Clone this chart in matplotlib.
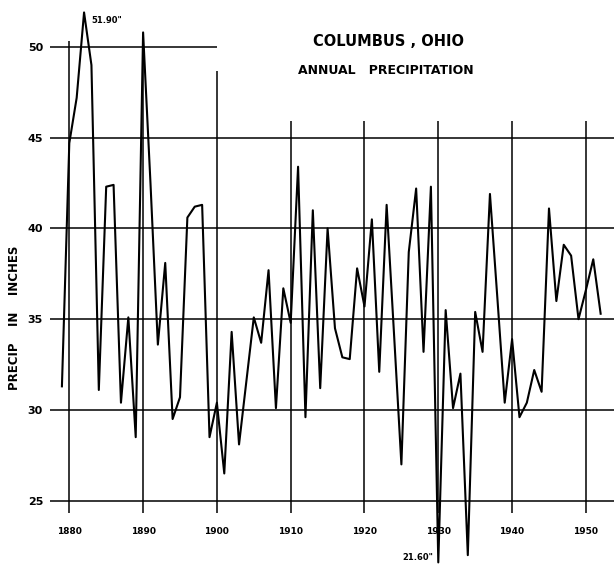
import matplotlib.pyplot as plt

# annual precipitation, Columbus Ohio (inches)
years = list(range(1879, 1953))
precip = [
    31.3, 44.7, 47.2, 51.9, 49.0, 31.1, 42.3, 42.4, 30.4, 35.1,
    28.5, 50.8, 42.5, 33.6, 38.1, 29.5, 30.7, 40.6, 41.2, 41.3,
    28.5, 30.4, 26.5, 34.3, 28.1, 31.6, 35.1, 33.7, 37.7, 30.1,
    36.7, 34.8, 43.4, 29.6, 41.0, 31.2, 40.0, 34.5, 32.9, 32.8,
    37.8, 35.7, 40.5, 32.1, 41.3, 34.2, 27.0, 38.7, 42.2, 33.2,
    42.3, 21.6, 35.5, 30.1, 32.0, 22.0, 35.4, 33.2, 41.9, 36.2,
    30.4, 33.9, 29.6, 30.4, 32.2, 31.0, 41.1, 36.0, 39.1, 38.5,
    35.0, 36.6, 38.3, 35.3,
]

y_ticks = [25, 30, 35, 40, 45, 50]
x_ticks = [1880, 1890, 1900, 1910, 1920, 1930, 1940, 1950]
# top end of each vertical grid line
x_grid_tops = [50.3, 50.3, 48.7, 45.9, 45.9, 45.9, 45.9, 45.9]

fig = plt.figure(figsize=(6.14, 5.65), dpi=100)
ax = fig.add_axes([50 / 614, 50 / 565, 564 / 614, 510 / 565])
ax.set_xlim(1877.385, 1953.81)
ax.set_ylim(24.212, 52.31)

# grid
for yv in y_ticks:
    if yv == 50:
        ax.hlines(yv, 1877.385, 1900, color='black', lw=1.1)
    else:
        ax.axhline(yv, color='black', lw=1.1)
for xv, top in zip(x_ticks, x_grid_tops):
    ax.vlines(xv, 24.3, top, color='black', lw=1.1)

ax.plot(years, precip, color='black', lw=1.5, clip_on=False, zorder=3)

# extremes
ax.text(1883.0, 51.45, '51.90"', fontsize=6, fontweight='bold', va='center', ha='left')
ax.text(1925.2, 21.85, '21.60"', fontsize=6, fontweight='bold', va='center', ha='left')

ax.set_yticks(y_ticks)
ax.set_yticklabels([str(v) for v in y_ticks], fontsize=8, fontweight='bold')
ax.set_xticks(x_ticks)
ax.set_xticklabels([str(v) for v in x_ticks], fontsize=6.5, fontweight='bold')
ax.tick_params(axis='y', length=0, pad=5)
ax.tick_params(axis='x', length=0, pad=9)
for s in ax.spines.values():
    s.set_visible(False)

fig.text(15 / 614, 1 - 318 / 565, 'PRECIP    IN    INCHES', rotation=90, fontsize=8.5,
         fontweight='bold', ha='center', va='center')
fig.text(389 / 614, 1 - 42 / 565, 'COLUMBUS , OHIO', fontsize=10.5, fontweight='bold',
         ha='center', va='center')
fig.text(386 / 614, 1 - 70 / 565, 'ANNUAL   PRECIPITATION', fontsize=9, fontweight='bold',
         ha='center', va='center')

fig.savefig('out.png', dpi=100)
